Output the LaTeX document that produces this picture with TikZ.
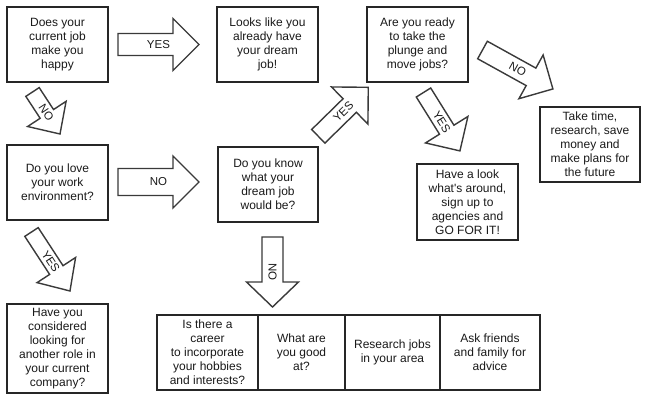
\documentclass[tikz,border=0pt]{standalone}
\usepackage{fontspec}
\setmainfont{Liberation Sans}[Ligatures=TeXOff]
\definecolor{boxline}{HTML}{262626}
\definecolor{arrline}{HTML}{3A3A3A}
\definecolor{txt}{HTML}{1A1A1A}
\tikzset{
  qbox/.style={draw=boxline, line width=2pt, fill=white, minimum width=101pt,
    minimum height=75pt, align=center, inner sep=0pt, text=txt,
    font=\fontsize{12}{14}\selectfont},
  arrshape/.style={draw=arrline, line width=1.4pt, fill=white, line join=miter},
  arrlbl/.style={text=txt, font=\fontsize{11.5}{13}\selectfont, inner sep=0pt, transform shape},
}
% block arrow from named tail coordinate to named tip coordinate
\newcommand\barrow[7]{%
  \pgfpointdiff{\pgfpointanchor{#1}{center}}{\pgfpointanchor{#2}{center}}%
  \pgfgetlastxy{\bdx}{\bdy}%
  \pgfmathsetmacro\barang{atan2(\bdy,\bdx)}%
  \pgfmathsetmacro\barlen{veclen(\bdx,\bdy)}%
  \begin{scope}[shift={(#1)}, rotate=\barang]
    \draw[arrshape] (0,{-#3/2}) -- ({\barlen-#5},{-#3/2}) -- ({\barlen-#5},{-#4/2})
      -- (\barlen,0) -- ({\barlen-#5},{#4/2}) -- ({\barlen-#5},{#3/2}) -- (0,{#3/2}) -- cycle;
    \node[arrlbl] (#6) at ({\barlen/2},0) {#7};
  \end{scope}}
\begin{document}
\begin{tikzpicture}[x=1pt,y=1pt]
\useasboundingbox[fill=white] (0,0) rectangle (656,-412);

% question boxes
\node[qbox] (b1) at (57.5,-44.5) {Does your\\current job\\make you\\happy};
\node[qbox] (b2) at (267.5,-44.5) {Looks like you\\already have\\your dream\\job!};
\node[qbox] (b3) at (417.5,-44.5) {Are you ready\\to take the\\plunge and\\move jobs?};
\node[qbox, minimum width=100pt] (b4) at (590,-144.5) {Take time,\\research, save\\money and\\make plans for\\the future};
\node[qbox, minimum height=76pt] (b5) at (467.5,-202) {Have a look\\what's around,\\sign up to\\agencies and\\GO FOR IT!};
\node[qbox] (b6) at (57.5,-182.5) {Do you love\\your work\\environment?};
\node[qbox, minimum width=100pt] (b7) at (268,-184.5) {Do you know\\what your\\dream job\\would be?};
\node[qbox, minimum height=89pt] (b8) at (57.5,-348.5) {Have you\\considered\\looking for\\another role in\\your current\\company?};

% bottom row
\node[qbox, minimum width=101pt] (c1) at (207.5,-352.5) {Is there a\\career\\to incorporate\\your hobbies\\and interests?};
\node[qbox, minimum width=87pt] (c2) at (301.5,-352.5) {What are\\you good\\at?};
\node[qbox, minimum width=95pt] (c3) at (392.5,-352.5) {Research jobs\\in your area};
\node[qbox, minimum width=100pt] (c4) at (490,-352.5) {Ask friends\\and family for\\advice};

% arrow end points
\coordinate (t1) at (118,-44.5);   \coordinate (h1) at (199,-44.5);
\coordinate (t2) at (118,-182);    \coordinate (h2) at (199,-182);
\coordinate (t3) at (272.5,-237);  \coordinate (h3) at (272.5,-307);
\coordinate (t4) at (32.5,-92);    \coordinate (h4) at (60,-134);
\coordinate (t5) at (31.5,-232);   \coordinate (h5) at (70,-291);
\coordinate (t6) at (318.3,-136.3);\coordinate (h6) at (368.3,-87.3);
\coordinate (t7) at (423.5,-92.5); \coordinate (h7) at (460,-151);
\coordinate (t8) at (482.5,-50);   \coordinate (h8) at (553,-89);

\barrow{t1}{h1}{22}{52}{26}{l1}{YES}
\barrow{t2}{h2}{27}{52}{26}{l2}{NO}
\barrow{t3}{h3}{21}{52}{25}{l3}{NO}
\barrow{t4}{h4}{16}{46}{24}{l4}{NO}
\barrow{t5}{h5}{16}{46}{25}{l5}{YES}
\barrow{t6}{h6}{19}{52}{26}{l6}{YES}
\barrow{t7}{h7}{17}{50}{25}{l7}{YES}
\barrow{t8}{h8}{20}{50}{25}{l8}{NO}
\end{tikzpicture}
\end{document}
